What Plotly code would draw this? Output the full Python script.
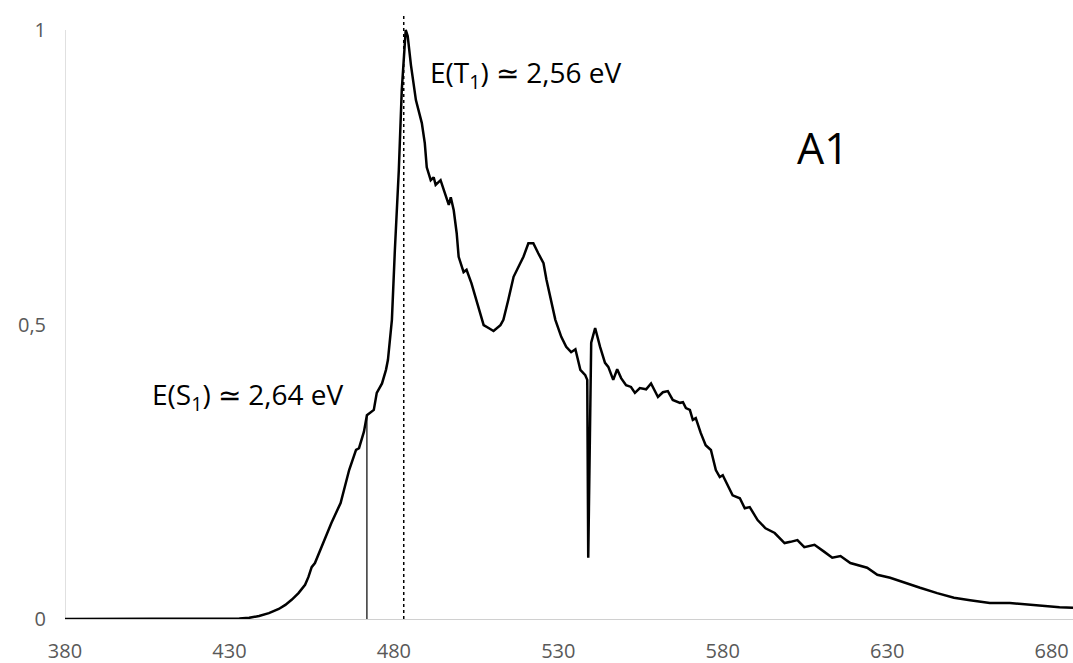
import plotly.graph_objects as go

# Emission spectrum (wavelength nm, normalised intensity)
wavelength = [380, 390, 400, 410, 420, 428, 433, 436, 439, 442, 445, 447, 449, 451, 453, 454, 455,
              456, 458, 461, 463.8, 466.4, 468.5, 469.4, 470.9, 471.8, 473.9, 474.8, 476.4, 477.6,
              478.2, 479.4, 480.3, 481.5, 482.4, 483.3, 483.6, 484.2, 485.2, 486.7, 488.5, 489.4,
              490, 491.2, 492.1, 492.7, 494.2, 495.2, 496.7, 497.3, 498.2, 499.1, 499.7, 501.2,
              502.1, 503.6, 505.8, 507.3, 508.8, 510.3, 512.4, 513.3, 514.8, 516.4, 517.9, 519.4,
              520.9, 522.4, 523.9, 525.5, 526.4, 529.1, 530.9, 532.4, 533.9, 535.2, 536.7, 538.2,
              538.8, 539.1, 540, 541.2, 542.7, 544.2, 545.2, 546.7, 547.9, 549.1, 550.6, 552.1,
              553.3, 554.8, 556.7, 558.2, 560.3, 561.8, 563.3, 564.8, 567, 567.9, 568.8, 570,
              570.9, 571.8, 573.3, 574.8, 576.4, 577.9, 579.1, 580, 583, 585.2, 586.7, 588.2,
              590.6, 593, 595.8, 598.8, 600.6, 602.7, 604.8, 607.9, 610.9, 613.3, 615.8, 618.8,
              623.9, 627, 630.9, 635.5, 640, 645.2, 650.3, 655.2, 661.2, 667.3, 673.3, 678.5,
              682.4, 686.5]
intensity = [0.0, 0.0, 0.0, 0.0, 0.0, 0.0005, 0.001, 0.002, 0.005, 0.01, 0.017, 0.024, 0.033, 0.044,
             0.058, 0.071, 0.088, 0.095, 0.122, 0.163, 0.197, 0.253, 0.287, 0.29, 0.318, 0.346,
             0.355, 0.384, 0.40, 0.423, 0.44, 0.508, 0.626, 0.762, 0.898, 0.983, 1.0, 0.99, 0.94,
             0.881, 0.842, 0.808, 0.767, 0.745, 0.75, 0.737, 0.745, 0.728, 0.703, 0.716, 0.694,
             0.655, 0.615, 0.589, 0.593, 0.57, 0.525, 0.499, 0.494, 0.489, 0.499, 0.508, 0.542,
             0.581, 0.598, 0.615, 0.638, 0.638, 0.621, 0.604, 0.576, 0.508, 0.479, 0.462, 0.453,
             0.458, 0.423, 0.414, 0.406, 0.104, 0.469, 0.494, 0.462, 0.435, 0.428, 0.406, 0.424,
             0.409, 0.397, 0.394, 0.384, 0.392, 0.39, 0.40, 0.377, 0.385, 0.387, 0.372, 0.367,
             0.368, 0.358, 0.355, 0.338, 0.341, 0.316, 0.295, 0.287, 0.253, 0.241, 0.244, 0.21,
             0.205, 0.188, 0.19, 0.168, 0.154, 0.146, 0.129, 0.131, 0.134, 0.122, 0.126, 0.114,
             0.104, 0.107, 0.095, 0.087, 0.075, 0.07, 0.061, 0.053, 0.044, 0.036, 0.032, 0.027,
             0.027, 0.024, 0.022, 0.02, 0.019]

x_ticks = [380, 430, 480, 530, 580, 630, 680]
y_ticks = [0, 0.5, 1]
y_tick_text = ["0", "0,5", "1"]

s1_wavelength, s1_height = 471.8, 0.346
t1_wavelength, t1_height = 483.0, 1.025

x_range = [380, 686.5]
y_range = [0, 1.0306]

fig = go.Figure()
fig.add_trace(go.Scatter(x=wavelength, y=intensity, mode="lines",
                         line=dict(color="black", width=2.5), showlegend=False,
                         hoverinfo="skip"))

# S1 solid marker line and T1 dashed marker line
fig.add_shape(type="line", x0=s1_wavelength, x1=s1_wavelength, y0=0, y1=s1_height,
              line=dict(color="black", width=1.2))
fig.add_shape(type="line", x0=t1_wavelength, x1=t1_wavelength, y0=0, y1=t1_height,
              line=dict(color="black", width=1.5, dash="3px,3px"))
# y axis line up to 1
fig.add_shape(type="line", x0=x_range[0], x1=x_range[0], y0=0, y1=1,
              line=dict(color="#d0d0d0", width=1.3), layer="below")

txt_font = dict(family="Open Sans", size=28, color="black")
fig.add_annotation(x=490.3, y=0.925, text="E(T<sub>1</sub>) \u2243 2,56 eV", showarrow=False,
                   xanchor="left", yanchor="middle", font=txt_font)
fig.add_annotation(x=405.8, y=0.378, text="E(S<sub>1</sub>) \u2243 2,64 eV", showarrow=False,
                   xanchor="left", yanchor="middle", font=txt_font)
fig.add_annotation(x=610.4, y=0.80, text="A1", showarrow=False,
                   xanchor="center", yanchor="middle",
                   font=dict(family="Open Sans", size=43, color="black"))

tick_font = dict(family="Open Sans", size=20, color="#595959")
fig.update_layout(
    width=1073, height=663,
    margin=dict(l=65, r=0, t=12, b=44),
    paper_bgcolor="white", plot_bgcolor="white",
    xaxis=dict(range=x_range, tickvals=x_ticks, showgrid=False, zeroline=False,
               showline=True, linecolor="#d0d0d0", linewidth=1.3, ticks="",
               tickfont=tick_font, ticklabelstandoff=14),
    yaxis=dict(range=y_range, tickvals=y_ticks, ticktext=y_tick_text, showgrid=False,
               zeroline=False, showline=False, ticks="", tickfont=tick_font,
               ticklabelstandoff=18),
)

fig.write_html("out.html")
